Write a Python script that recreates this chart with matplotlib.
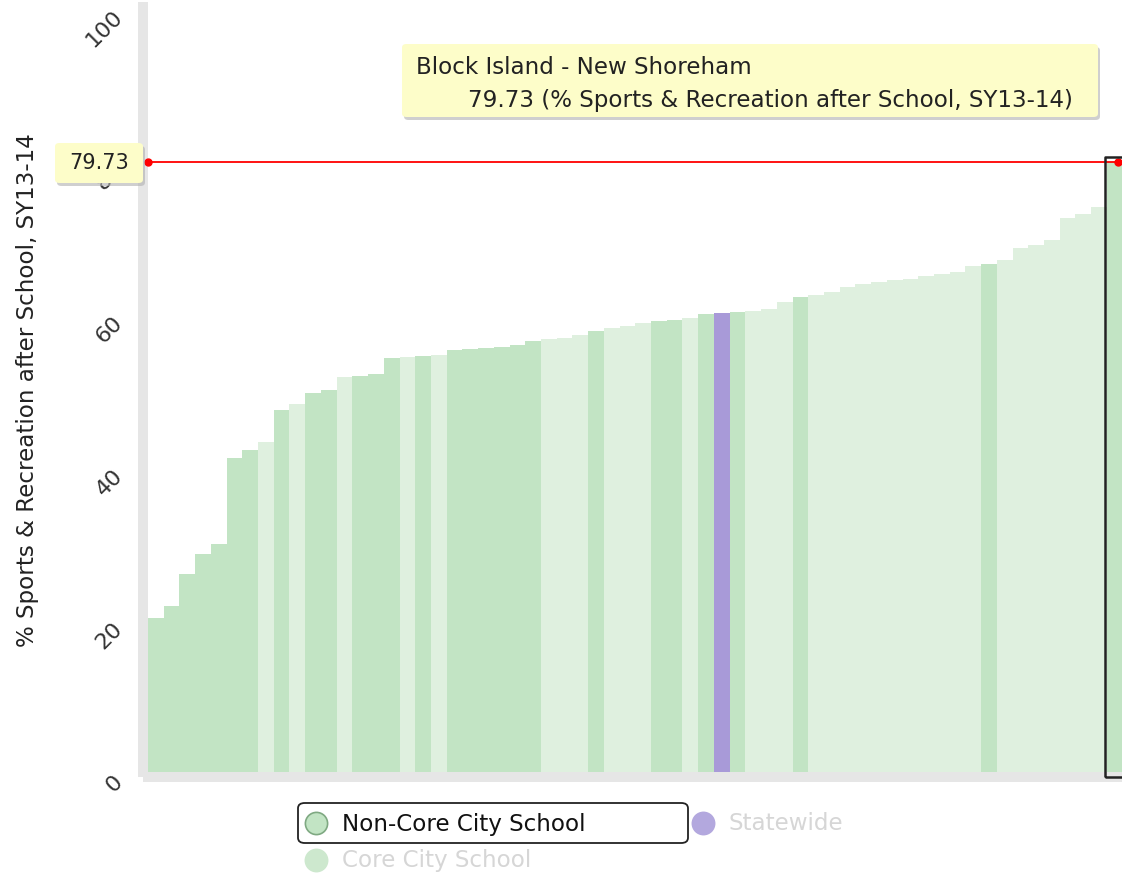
import matplotlib
matplotlib.use('Agg')
import matplotlib.pyplot as plt
from matplotlib.patches import FancyBboxPatch, Rectangle
from matplotlib.lines import Line2D
from matplotlib.transforms import ScaledTranslation

# Dados: escolas ordenadas pelo percentual
values = [20.1, 21.7, 25.9, 28.5, 29.8, 41.0, 42.1, 43.2, 47.3, 48.1,
          49.5, 49.9, 51.6, 51.7, 52.0, 54.1, 54.2, 54.4, 54.5, 55.2,
          55.3, 55.4, 55.6, 55.8, 56.4, 56.6, 56.7, 57.1, 57.6, 58.0,
          58.3, 58.7, 59.0, 59.1, 59.3, 59.9, 60.0, 60.1, 60.3, 60.5,
          61.5, 62.1, 62.4, 62.8, 63.4, 63.8, 64.0, 64.3, 64.5, 64.8,
          65.1, 65.4, 66.1, 66.4, 66.9, 68.5, 68.9, 69.5, 72.4, 73.0,
          73.9, 79.73]
# N = Non-Core City School, C = Core City School, S = Statewide
groups = list("NNNNNNNCNCNNCNNNCNCNNNNNNCCCNCCCNNCNSNCCCN"
              "CCCCCCCCCCCNCCCCCCCN")
yticks = [0, 20, 40, 60, 80, 100]
ylabel = '% Sports & Recreation after School, SY13-14'
selected_name = 'Block Island - New Shoreham'
selected_value = 79.73
legend_labels = ['Non-Core City School', 'Statewide', 'Core City School']

group_colors = {'N': '#c2e4c4', 'C': '#dff0df', 'S': '#a89ad8'}

plt.rcParams['font.family'] = ['DejaVu Sans']
FS = 16.6

W, H = 1122, 877
fig = plt.figure(figsize=(W / 100, H / 100), dpi=100)


# converte pixel (origem no topo) para fração da figura
def px(x, y):
    return x / W, 1 - y / H


ax = fig.add_axes([148 / W, 105 / H, 974 / W, 765 / H])
x = list(range(len(values)))
ax.bar(x, values, width=1, align='edge', color=[group_colors[g] for g in groups], linewidth=0)
ax.set_xlim(0, 974 / 15.72)
ax.set_ylim(0, 100)

# eixos cinza claros
for side in ['top', 'right']:
    ax.spines[side].set_visible(False)
for side in ['left', 'bottom']:
    ax.spines[side].set_color('#e6e6e6')
    ax.spines[side].set_linewidth(7.2)
    ax.spines[side].set_position(('outward', 3.6))
ax.set_xticks([])
ax.set_yticks(yticks)
ax.set_yticklabels([str(t) for t in yticks], rotation=45, ha='right', va='center',
                   rotation_mode='anchor', fontsize=16, color='#333333')
ax.tick_params(axis='y', length=0, pad=17)
for lab in ax.get_yticklabels():
    lab.set_transform(lab.get_transform() + ScaledTranslation(0, -0.07, fig.dpi_scale_trans))
fig.text(28 / W, 1 - 390 / H, ylabel, rotation=90, ha='center', va='center',
         fontsize=FS, color='#222222')

# linha vermelha do valor selecionado
ax.axhline(selected_value, color='red', lw=1.3, zorder=3)
ax.plot([0, len(values) - 0.3], [selected_value, selected_value], 'o', color='red',
        ms=5, clip_on=False, zorder=4)

# contorno da barra selecionada
ax.add_patch(Rectangle((len(values) - 1.15, -0.6), 1.4, selected_value + 1.2, fill=False,
                       ec='#222222', lw=1.8, joinstyle='round', clip_on=False, zorder=5))

# tooltip grande
x0, y0 = px(402, 117)
x1, y1 = px(1098, 44)
fig.add_artist(FancyBboxPatch((x0 + 2 / W, y0 - 3 / H), x1 - x0, y1 - y0,
                              boxstyle='round,pad=0,rounding_size=0.004',
                              transform=fig.transFigure, fc='#b0b0b0', ec='none', alpha=0.6))
fig.add_artist(FancyBboxPatch((x0, y0), x1 - x0, y1 - y0,
                              boxstyle='round,pad=0,rounding_size=0.004',
                              transform=fig.transFigure, fc='#fdfdc9', ec='none'))
fig.text(*px(416, 67), selected_name, ha='left', va='center', fontsize=FS, color='#222222')
fig.text(*px(468, 100), f'{selected_value} ({ylabel})', ha='left', va='center',
         fontsize=FS, color='#222222')

# tooltip pequeno no eixo
x0, y0 = px(55, 183)
x1, y1 = px(143, 143)
fig.add_artist(FancyBboxPatch((x0 + 2 / W, y0 - 3 / H), x1 - x0, y1 - y0,
                              boxstyle='round,pad=0,rounding_size=0.004',
                              transform=fig.transFigure, fc='#b0b0b0', ec='none', alpha=0.6))
fig.add_artist(FancyBboxPatch((x0, y0), x1 - x0, y1 - y0,
                              boxstyle='round,pad=0,rounding_size=0.004',
                              transform=fig.transFigure, fc='#fdfdc9', ec='none'))
fig.text(*px(99, 163), f'{selected_value}', ha='center', va='center', fontsize=15,
         color='#222222')

# legenda
x0, y0 = px(298, 843)
x1, y1 = px(688, 803)
fig.add_artist(FancyBboxPatch((x0, y0), x1 - x0, y1 - y0,
                              boxstyle='round,pad=0,rounding_size=0.006',
                              transform=fig.transFigure, fc='white', ec='#222222', lw=1.3))
legend_items = [(316, 823, '#c2e4c4', '#7fa982', '#111111'),
                (703, 823, '#b3a8de', '#b3a8de', '#d6d6d6'),
                (316, 860, '#cde8ce', '#cde8ce', '#d6d6d6')]
for (lx, ly, fc, ec, tc), label in zip(legend_items, legend_labels):
    fig.add_artist(Line2D([lx / W], [1 - ly / H], marker='o', ms=16, mfc=fc, mec=ec, mew=1.2,
                          transform=fig.transFigure, linestyle='none'))
    fig.text(*px(lx + 26, ly + 1), label, ha='left', va='center', fontsize=FS, color=tc)

fig.savefig('out.png', dpi=100)
